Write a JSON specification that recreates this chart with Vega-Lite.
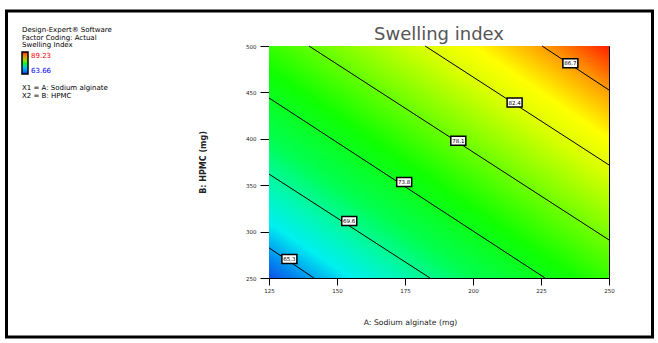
{
  "$schema": "https://vega.github.io/schema/vega-lite/v6.json",
  "width": 340,
  "height": 232,
  "autosize": {"type": "none"},
  "padding": {"left": 269, "top": 46, "right": 49, "bottom": 65},
  "background": "white",
  "title": {"text": "Swelling index", "anchor": "middle", "frame": "group", "fontSize": 18, "fontWeight": "normal", "color": "#555555", "offset": 7, "baseline": "alphabetic", "dy": 54, "font": "DejaVu Sans"},
  "datasets": {
    "region": [{"a1": 125, "a2": 250, "b1": 250, "b2": 500}],
    "contours": [
      {"c": 1, "a": 125, "b": 282.5}, {"c": 1, "a": 141.5, "b": 250},
      {"c": 2, "a": 125, "b": 362}, {"c": 2, "a": 184.2, "b": 250},
      {"c": 3, "a": 125, "b": 444}, {"c": 3, "a": 226.5, "b": 250},
      {"c": 4, "a": 139.7, "b": 500}, {"c": 4, "a": 250, "b": 291},
      {"c": 5, "a": 182.4, "b": 500}, {"c": 5, "a": 250, "b": 371.8},
      {"c": 6, "a": 225.4, "b": 500}, {"c": 6, "a": 250, "b": 452.6}
    ],
    "labels": [
      {"a": 132.5, "b": 270.5, "v": "65.3"},
      {"a": 154.5, "b": 311.5, "v": "69.6"},
      {"a": 174.7, "b": 353.5, "v": "73.8"},
      {"a": 194.6, "b": 398.0, "v": "78.1"},
      {"a": 215.3, "b": 439.0, "v": "82.4"},
      {"a": 235.8, "b": 481.5, "v": "86.7"}
    ],
    "range": [{"s": 63.66}, {"s": 89.23}],
    "frame": [{"k": 0}, {"k": 1}],
    "factors": [{"f": "X1 = A: Sodium alginate"}, {"f": "X2 = B: HPMC"}]
  },
  "layer": [
    {
      "data": {"name": "region"},
      "mark": {"type": "rect", "fill": {"gradient": "linear", "x1": 0, "y1": 1, "x2": 1, "y2": 0, "stops": [
        {"offset": 0, "color": "#1050e8"},
        {"offset": 0.05, "color": "#0090f0"},
        {"offset": 0.12, "color": "#00f0f0"},
        {"offset": 0.2, "color": "#00f8b0"},
        {"offset": 0.3, "color": "#00ff50"},
        {"offset": 0.45, "color": "#10ff00"},
        {"offset": 0.6, "color": "#80ff00"},
        {"offset": 0.72, "color": "#d8ff00"},
        {"offset": 0.8, "color": "#ffff00"},
        {"offset": 0.9, "color": "#ffa000"},
        {"offset": 1, "color": "#ff2000"}
      ]}},
      "encoding": {
        "x": {"field": "a1", "type": "quantitative", "scale": {"domain": [125, 250], "nice": false, "zero": false},
          "axis": {"values": [125, 150, 175, 200, 225, 250], "title": "A: Sodium alginate (mg)", "titleFontSize": 7.7, "titleFontWeight": "normal", "titleColor": "#222222", "titleX": 141, "titleY": 44, "titleBaseline": "middle", "titleAlign": "center", "tickSize": 7, "labelPadding": 3, "labelFlush": false}},
        "x2": {"field": "a2"},
        "y": {"field": "b1", "type": "quantitative", "scale": {"domain": [250, 500], "nice": false, "zero": false},
          "axis": {"values": [250, 300, 350, 400, 450, 500], "title": "B: HPMC (mg)", "titleFontSize": 8, "titleFontWeight": "bold", "titleColor": "#222222", "titleX": -66, "titleY": 116, "titleAngle": 270, "titleAlign": "center", "titleBaseline": "middle", "tickSize": 9, "labelPadding": 4}},
        "y2": {"field": "b2"}
      }
    },
    {
      "data": {"name": "contours"},
      "mark": {"type": "line", "color": "black", "strokeWidth": 1},
      "encoding": {
        "x": {"field": "a", "type": "quantitative"},
        "y": {"field": "b", "type": "quantitative"},
        "detail": {"field": "c", "type": "nominal"}
      }
    },
    {
      "data": {"name": "labels"},
      "mark": {"type": "point", "shape": "M-1,-0.6H1V0.6H-1Z", "size": 225, "filled": true, "fill": "white", "stroke": "black", "strokeWidth": 1.5, "opacity": 1},
      "encoding": {
        "x": {"field": "a", "type": "quantitative"},
        "y": {"field": "b", "type": "quantitative"}
      }
    },
    {
      "data": {"name": "labels"},
      "mark": {"type": "text", "fontSize": 5.5, "color": "black", "align": "center", "baseline": "middle"},
      "encoding": {
        "x": {"field": "a", "type": "quantitative"},
        "y": {"field": "b", "type": "quantitative"},
        "text": {"field": "v"}
      }
    },
    {
      "data": {"name": "range"},
      "mark": {"type": "point", "opacity": 0},
      "encoding": {
        "fill": {"field": "s", "type": "quantitative", "scale": {"domain": [63.66, 89.23], "range": ["#0010ff", "#00ff00", "#ff0000"]},
          "legend": {"orient": "none", "legendX": -247, "legendY": -20, "direction": "vertical", "gradientLength": 22, "gradientThickness": 6, "gradientStrokeColor": "black", "gradientStrokeWidth": 1.5, "values": [63.66, 89.23], "format": ".2f", "labelFontSize": 7, "labelOverlap": false, "labelOffset": 3,
            "title": ["Design-Expert® Software", "Factor Coding: Actual", "Swelling Index"], "titleFontSize": 7, "titleFontWeight": "normal", "titleColor": "black", "titleLineHeight": 7.5, "titlePadding": 4, "padding": 0,
            "encode": {"labels": {"update": {"fill": {"signal": "datum.value > 80 ? '#ff0000' : '#0000ff'"}}}}}
        }
      }
    },
    {
      "data": {"name": "frame"},
      "mark": {"type": "point", "opacity": 0},
      "encoding": {
        "stroke": {"field": "k", "type": "quantitative", "scale": {"domain": [0, 1], "range": ["rgba(0,0,0,0)", "rgba(0,0,0,0)"]},
          "legend": {"orient": "none", "legendX": -262.5, "legendY": -35, "direction": "vertical", "title": null, "gradientLength": 326, "gradientThickness": 646, "gradientStrokeColor": "black", "gradientStrokeWidth": 3, "labelExpr": "''", "values": [0], "padding": 0}
        }
      }
    },
    {
      "data": {"name": "factors"},
      "mark": {"type": "point", "opacity": 0},
      "encoding": {
        "shape": {"field": "f", "type": "nominal",
          "legend": {"orient": "none", "legendX": -254, "legendY": 38, "title": null, "symbolSize": 0, "symbolStrokeWidth": 0, "labelOffset": 0, "labelFontSize": 7, "labelColor": "black", "rowPadding": 0, "padding": 0, "labelLimit": 300}
        }
      }
    }
  ],
  "config": {
    "font": "DejaVu Sans",
    "view": {"stroke": "black", "strokeWidth": 1},
    "axis": {"domainColor": "black", "tickColor": "black", "labelColor": "#222222", "labelFontSize": 5.5, "grid": false, "labelFont": "DejaVu Sans", "titleFont": "DejaVu Sans"},
    "legend": {"labelFont": "DejaVu Sans", "titleFont": "DejaVu Sans"}
  }
}
